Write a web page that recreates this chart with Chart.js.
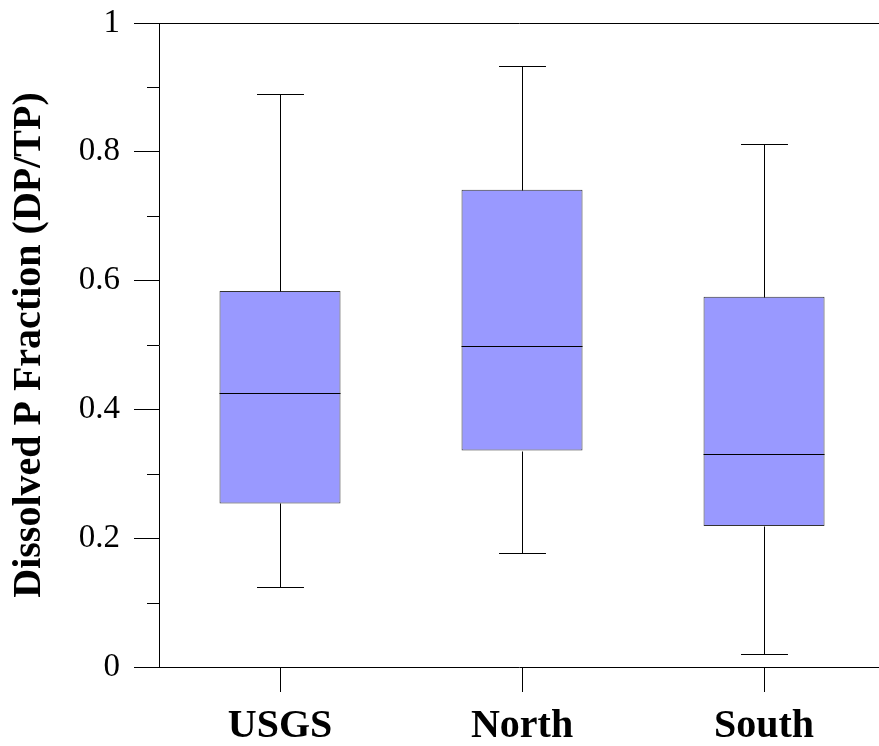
<!DOCTYPE html>
<html>
<head>
<meta charset="utf-8">
<script src="https://cdn.jsdelivr.net/npm/chart.js@4/dist/chart.umd.min.js"></script>
<style>
  html, body { margin: 0; padding: 0; background: #fff; }
</style>
</head>
<body>
<canvas id="boxCanvas" width="879" height="746"></canvas>
<script>
// Box plot summary values
const groups = ['USGS', 'North', 'South'];
const whiskerLow = [0.124, 0.177, 0.020];
const q1 = [0.254, 0.336, 0.219];
const medians = [0.425, 0.498, 0.330];
const q3 = [0.584, 0.741, 0.575];
const whiskerHigh = [0.890, 0.933, 0.812];
const yMajorTicks = [0, 0.2, 0.4, 0.6, 0.8, 1];

const serif = "'Liberation Serif', 'Times New Roman', serif";

function isMajor(v) {
  return yMajorTicks.some(t => Math.abs(t - v) < 1e-6);
}

// draws whiskers, caps, medians and the short minor ticks
const boxExtras = {
  id: 'boxExtras',
  afterDatasetsDraw(chart) {
    const ctx = chart.ctx;
    const xs = chart.scales.x;
    const ys = chart.scales.y;
    const meta = chart.getDatasetMeta(0);
    const unit = xs.getPixelForValue(1) - xs.getPixelForValue(0);
    const capHalf = unit * 0.097;
    const px = v => Math.round(v) + 0.5;

    ctx.save();
    ctx.lineWidth = 1;
    ctx.strokeStyle = '#000';
    groups.forEach((g, i) => {
      const cx = px(xs.getPixelForValue(i));
      const bar = meta.data[i];
      const half = bar.width / 2;

      ctx.beginPath();
      // upper whisker
      ctx.moveTo(cx, px(ys.getPixelForValue(q3[i])));
      ctx.lineTo(cx, px(ys.getPixelForValue(whiskerHigh[i])));
      // lower whisker
      ctx.moveTo(cx, px(ys.getPixelForValue(q1[i])));
      ctx.lineTo(cx, px(ys.getPixelForValue(whiskerLow[i])));
      // caps
      ctx.moveTo(cx - capHalf, px(ys.getPixelForValue(whiskerHigh[i])));
      ctx.lineTo(cx + capHalf, px(ys.getPixelForValue(whiskerHigh[i])));
      ctx.moveTo(cx - capHalf, px(ys.getPixelForValue(whiskerLow[i])));
      ctx.lineTo(cx + capHalf, px(ys.getPixelForValue(whiskerLow[i])));
      // median
      ctx.moveTo(bar.x - half, px(ys.getPixelForValue(medians[i])));
      ctx.lineTo(bar.x + half, px(ys.getPixelForValue(medians[i])));
      ctx.stroke();
    });

    // minor ticks on the y axis
    const left = chart.chartArea.left;
    ctx.beginPath();
    ys.ticks.forEach(t => {
      if (!isMajor(t.value)) {
        const y = px(ys.getPixelForValue(t.value));
        ctx.moveTo(left - 12, y);
        ctx.lineTo(left, y);
      }
    });
    ctx.stroke();
    ctx.restore();
  }
};

const config = {
  type: 'bar',
  data: {
    datasets: [{
      data: groups.map((g, i) => ({ x: i, y: [q1[i], q3[i]] })),
      backgroundColor: '#9999ff',
      borderColor: '#333',
      borderWidth: 1,
      borderSkipped: false,
      barPercentage: 0.5,
      categoryPercentage: 1
    }]
  },
  options: {
    responsive: false,
    animation: false,
    layout: { padding: { top: 0, right: 0, left: 0, bottom: 0 } },
    plugins: {
      legend: { display: false },
      tooltip: { enabled: false }
    },
    scales: {
      x: {
        type: 'linear',
        offset: false,
        min: -0.5,
        max: 2.475,
        afterBuildTicks: axis => { axis.ticks = groups.map((g, i) => ({ value: i })); },
        afterFit: scale => { scale.height = 79; },
        ticks: {
          callback: v => groups[v],
          color: '#000',
          font: { family: serif, size: 40, weight: 'bold' },
          padding: 11,
          autoSkip: false,
          maxRotation: 0
        },
        grid: {
          offset: false,
          drawOnChartArea: false,
          tickLength: 25,
          tickColor: '#000'
        },
        border: { display: true, color: '#000', width: 1 }
      },
      y: {
        type: 'linear',
        min: 0,
        max: 1,
        afterFit: scale => { scale.width = 159; },
        ticks: {
          stepSize: 0.1,
          color: '#000',
          font: { family: serif, size: 33, lineHeight: '18px' },
          padding: 14,
          callback: v => {
            if (!isMajor(v)) return '';
            if (Math.abs(v) < 1e-6) return '0';
            if (Math.abs(v - 1) < 1e-6) return '1';
            return v.toFixed(1);
          }
        },
        grid: {
          tickLength: 25,
          color: c => (c.tick && Math.abs(c.tick.value - 1) < 1e-6) ? '#000' : 'rgba(0,0,0,0)',
          tickColor: c => (c.tick && isMajor(c.tick.value)) ? '#000' : 'rgba(0,0,0,0)'
        },
        border: { display: true, color: '#000', width: 1 },
        title: {
          display: true,
          text: 'Dissolved P Fraction (DP/TP)',
          color: '#000',
          font: { family: serif, size: 40, weight: 'bold' },
          padding: { top: 6, bottom: 0 }
        }
      }
    }
  },
  plugins: [boxExtras]
};

new Chart(document.getElementById('boxCanvas'), config);
</script>
</body>
</html>
